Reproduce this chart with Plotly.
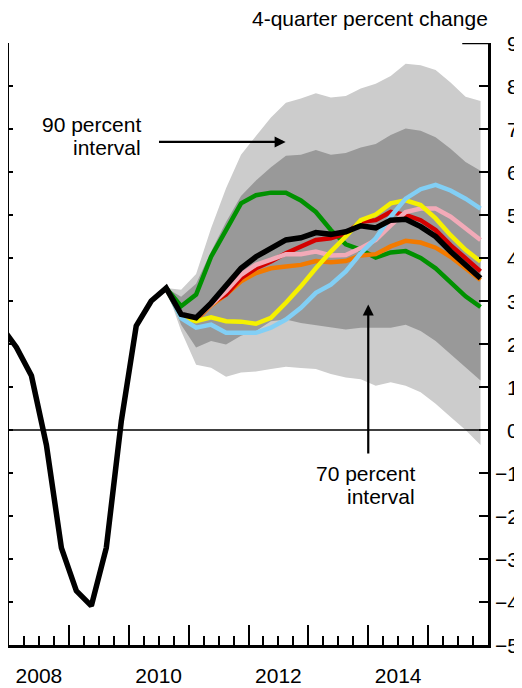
import plotly.graph_objects as go

# ---------------- data ----------------
hist_quarters = ["2007Q4", "2008Q1", "2008Q2", "2008Q3", "2008Q4", "2009Q1", "2009Q2",
                 "2009Q3", "2009Q4", "2010Q1", "2010Q2", "2010Q3"]
hist_values = [2.40, 1.92, 1.26, -0.35, -2.74, -3.74, -4.09, -2.74, 0.20, 2.42, 3.00, 3.30]

fc_quarters = ["2010Q3", "2010Q4",
               "2011Q1", "2011Q2", "2011Q3", "2011Q4",
               "2012Q1", "2012Q2", "2012Q3", "2012Q4",
               "2013Q1", "2013Q2", "2013Q3", "2013Q4",
               "2014Q1", "2014Q2", "2014Q3", "2014Q4",
               "2015Q1", "2015Q2", "2015Q3", "2015Q4"]

band90_upper = [3.30, 3.26, 3.63, 4.69, 5.62, 6.40, 6.84, 7.27, 7.61, 7.71, 7.83, 7.73,
                7.77, 7.94, 8.05, 8.23, 8.52, 8.48, 8.37, 8.08, 7.75, 7.65]
band90_lower = [3.30, 2.30, 1.52, 1.45, 1.24, 1.34, 1.36, 1.42, 1.47, 1.44, 1.42, 1.30,
                1.22, 1.18, 1.03, 1.11, 1.03, 0.88, 0.61, 0.30, 0.00, -0.35]
band70_upper = [3.30, 3.10, 3.40, 4.15, 4.84, 5.44, 5.80, 6.11, 6.38, 6.40, 6.51, 6.40,
                6.44, 6.57, 6.65, 6.86, 7.01, 6.96, 6.81, 6.54, 6.23, 6.03]
band70_lower = [3.30, 2.45, 1.92, 2.07, 1.99, 2.19, 2.30, 2.53, 2.57, 2.49, 2.45, 2.39,
                2.34, 2.38, 2.38, 2.38, 2.45, 2.30, 2.07, 1.76, 1.45, 1.15]

green = [3.30, 2.88, 3.15, 4.03, 4.65, 5.27, 5.46, 5.52, 5.52, 5.34, 5.07, 4.65,
         4.32, 4.19, 4.01, 4.13, 4.16, 4.00, 3.76, 3.42, 3.11, 2.86]
orange = [3.30, 2.65, 2.56, 2.90, 3.15, 3.46, 3.65, 3.76, 3.80, 3.84, 3.93, 3.90,
          3.93, 4.06, 4.09, 4.27, 4.40, 4.36, 4.24, 4.03, 3.76, 3.49]
red = [3.30, 2.65, 2.58, 2.95, 3.15, 3.53, 3.76, 3.92, 4.11, 4.27, 4.42, 4.46,
       4.57, 4.84, 4.88, 5.07, 5.00, 4.88, 4.65, 4.30, 4.00, 3.69]
pink = [3.30, 2.65, 2.60, 2.92, 3.23, 3.61, 3.84, 3.96, 4.09, 4.09, 4.15, 4.06,
        4.07, 4.23, 4.42, 4.76, 5.07, 5.15, 5.15, 4.96, 4.69, 4.42]
yellow = [3.30, 2.62, 2.53, 2.62, 2.53, 2.52, 2.47, 2.61, 2.96, 3.34, 3.76, 4.15,
          4.50, 4.88, 5.01, 5.27, 5.34, 5.23, 4.92, 4.53, 4.19, 3.92]
lightblue = [3.30, 2.60, 2.38, 2.45, 2.26, 2.26, 2.26, 2.38, 2.57, 2.84, 3.19, 3.38,
             3.69, 4.11, 4.46, 4.96, 5.38, 5.60, 5.70, 5.57, 5.38, 5.15]
black_fc = [3.30, 2.69, 2.61, 2.95, 3.34, 3.76, 4.03, 4.23, 4.42, 4.47, 4.59, 4.55,
            4.61, 4.75, 4.70, 4.88, 4.90, 4.73, 4.50, 4.15, 3.84, 3.53]

x_range = [2008, 2016]
y_range = [-5, 9]
y_ticks = list(range(-5, 10))
y_ticktext = [("\u2212" + str(-v)) if v < 0 else str(v) for v in y_ticks]
year_label_vals = [2008.5, 2010.5, 2012.5, 2014.5]
year_labels = ["2008", "2010", "2012", "2014"]


def qx(label):
    return int(label[:4]) + (int(label[-1]) - 0.5) / 4


hx = [qx(q) for q in hist_quarters]
fx = [qx(q) for q in fc_quarters]

FONT = "Liberation Sans, Arial, Helvetica, sans-serif"
LIGHT = "#cccccc"
DARK = "#999999"

fig = go.Figure()

# bands
fig.add_trace(go.Scatter(x=fx + fx[::-1], y=band90_upper + band90_lower[::-1],
                         fill="toself", fillcolor=LIGHT, line=dict(width=0),
                         mode="lines", hoverinfo="skip", showlegend=False))
fig.add_trace(go.Scatter(x=fx + fx[::-1], y=band70_upper + band70_lower[::-1],
                         fill="toself", fillcolor=DARK, line=dict(width=0),
                         mode="lines", hoverinfo="skip", showlegend=False))

# zero line (also binds the tick-carrying x axis 2)
fig.add_trace(go.Scatter(x=x_range, y=[0, 0], mode="lines", xaxis="x2", yaxis="y",
                         line=dict(color="black", width=1.7), showlegend=False,
                         hoverinfo="skip"))

series = [
    (green, "#009100"),
    (orange, "#f27a00"),
    (red, "#d40000"),
    (pink, "#f2aab8"),
    (yellow, "#f5f000"),
    (lightblue, "#82cff5"),
]
for vals, col in series:
    fig.add_trace(go.Scatter(x=fx, y=vals, mode="lines",
                             line=dict(color=col, width=4.5), showlegend=False))

fig.add_trace(go.Scatter(x=hx + fx[1:], y=hist_values + black_fc[1:], mode="lines",
                         line=dict(color="black", width=5.5), showlegend=False))

# invisible carrier so the left overlay axis gets drawn
fig.add_trace(go.Scatter(x=x_range, y=y_range, mode="lines", yaxis="y2",
                         line=dict(width=0, color="rgba(0,0,0,0)"),
                         hoverinfo="skip", showlegend=False))

# ---------------- axes ----------------
# page body has an 8px margin, so the figure is laid out 8px smaller
W, H = 514, 680
ML, MR = 1, 2
paper_w = W - ML - MR
fig.update_layout(
    width=W, height=H,
    margin=dict(l=ML, r=MR, t=35, b=39),
    paper_bgcolor="white", plot_bgcolor="white",
    font=dict(family=FONT, size=21, color="black"),
    showlegend=False,
    xaxis=dict(domain=[0, 479 / paper_w], range=x_range, showgrid=False, zeroline=False,
               tickmode="array", tickvals=year_label_vals, ticktext=year_labels,
               ticks="", showline=False, ticklabelstandoff=16,
               tickfont=dict(size=21)),
    xaxis2=dict(overlaying="x", anchor="y", side="bottom", range=x_range,
                showgrid=False, zeroline=False, showticklabels=False,
                tickmode="linear", tick0=2008, dtick=1, ticks="inside", ticklen=20,
                tickwidth=2, tickcolor="black",
                minor=dict(ticks="inside", ticklen=9, tickwidth=2, tickcolor="black",
                           tickmode="linear", tick0=2008, dtick=0.25),
                showline=True, linecolor="black", linewidth=3),
    yaxis=dict(range=y_range, side="right", showgrid=False, zeroline=False,
               tickmode="linear", tick0=-5, dtick=1, ticks="inside", ticklen=9,
               tickwidth=2, tickcolor="black", showticklabels=False,
               showline=True, linecolor="black", linewidth=2.7),
    yaxis2=dict(overlaying="y", anchor="x", side="left", range=y_range,
                showgrid=False, zeroline=False, tickmode="linear", tick0=-5, dtick=1,
                ticks="inside", ticklen=4, tickwidth=2, tickcolor="black",
                showticklabels=False, showline=True, linecolor="black", linewidth=2.7),
)

# right-aligned value labels for the right axis, positioned on the y scale
for v, t in zip(y_ticks, y_ticktext):
    fig.add_annotation(text=t, xref="paper", yref="y", x=1.0, y=v,
                       xanchor="right", yanchor="middle", showarrow=False,
                       borderpad=0, font=dict(size=21))

# longer top tick on right axis
fig.add_shape(type="line", xref="x", yref="y", x0=2015.57, x1=2016, y0=9, y1=9,
              line=dict(color="black", width=2.5))

# ---------------- annotations ----------------
fig.add_annotation(text="4-quarter percent change", xref="paper", yref="paper",
                   x=479 / paper_w, y=1, xanchor="right", yanchor="bottom",
                   xshift=2, yshift=11, showarrow=False, font=dict(size=21))

fig.add_annotation(text="90 percent", xref="x", yref="y", x=2010.233, y=7.11,
                   xanchor="right", yanchor="middle", showarrow=False)
fig.add_annotation(text="interval", xref="x", yref="y", x=2010.233, y=6.58,
                   xanchor="right", yanchor="middle", showarrow=False)
fig.add_annotation(text="", xref="x", yref="y", axref="x", ayref="y",
                   x=2012.62, y=6.70, ax=2010.48, ay=6.70, showarrow=True,
                   arrowhead=2, arrowsize=1, arrowwidth=2.2, arrowcolor="black")

fig.add_annotation(text="70 percent", xref="x", yref="y", x=2014.82, y=-1.00,
                   xanchor="right", yanchor="middle", showarrow=False)
fig.add_annotation(text="interval", xref="x", yref="y", x=2014.82, y=-1.55,
                   xanchor="right", yanchor="middle", showarrow=False)
fig.add_annotation(text="", xref="x", yref="y", axref="x", ayref="y",
                   x=2014.0, y=2.92, ax=2014.0, ay=-0.58, showarrow=True,
                   arrowhead=2, arrowsize=1, arrowwidth=2.2, arrowcolor="black")

fig.write_html("out.html")
